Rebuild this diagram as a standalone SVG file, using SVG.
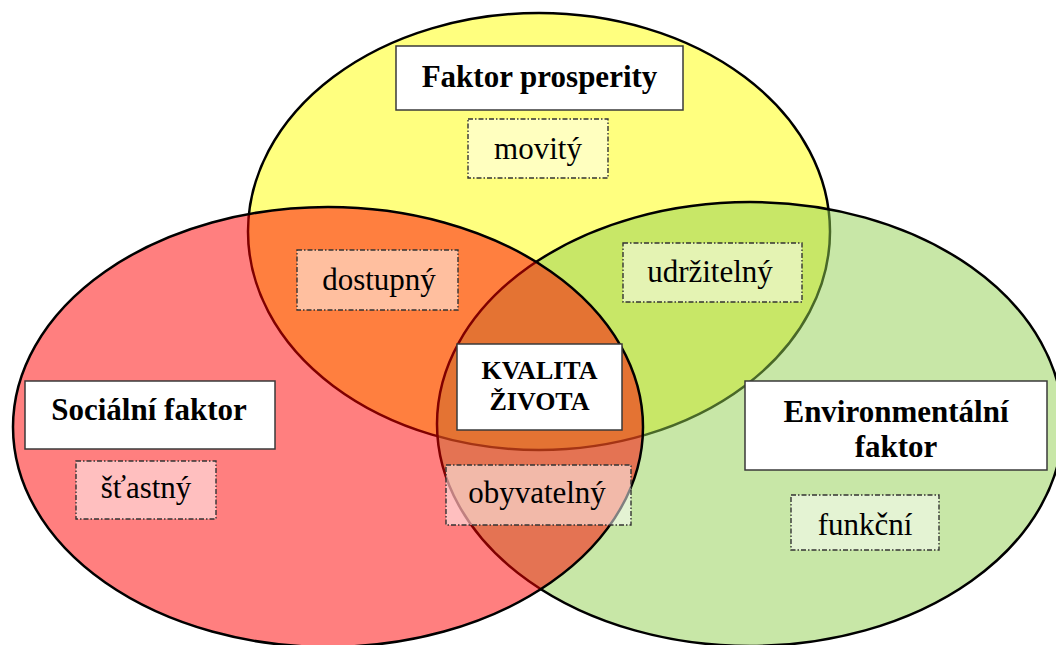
<svg xmlns="http://www.w3.org/2000/svg" width="1056" height="645" viewBox="0 0 1056 645">
<style>
.circ{stroke:#000;stroke-width:2.5;fill-opacity:0.5}
.title{fill:#fff;stroke:#3a3a3a;stroke-width:1.5}
.tag{fill:#fff;fill-opacity:0.5;stroke:#333;stroke-width:1.4;stroke-dasharray:5 2 1.5 2}
.b{font-weight:bold;font-size:31px}
.k{font-weight:bold;font-size:26px}
.n{font-size:31px}
</style>
<rect width="1056" height="645" fill="#fff"/>
<g id="circles">
<ellipse id="yellow" class="circ" cx="539" cy="231.5" rx="291" ry="218.5" fill="#FFFF00"/>
<ellipse id="green" class="circ" cx="750" cy="424" rx="313" ry="222" fill="#92D050"/>
<ellipse id="red" class="circ" cx="328" cy="427" rx="315" ry="220" fill="#FF0000"/>
</g>
<g id="connectors"/>
<g font-family="Liberation Serif, 'Times New Roman', 'DejaVu Serif', serif" text-anchor="middle" fill="#000">
<g id="prosperity">
<rect class="title" x="396" y="46" width="287" height="64"/>
<text class="b" x="539.5" y="87">Faktor prosperity</text>
</g>
<g id="movity">
<rect class="tag" x="468" y="119" width="140" height="59"/>
<text class="n" x="538" y="159">movitý</text>
</g>
<g id="dostupny">
<rect class="tag" x="297" y="250" width="161" height="60"/>
<text class="n" x="379" y="290">dostupný</text>
</g>
<g id="udrzitelny">
<rect class="tag" x="623" y="243" width="179" height="59"/>
<text class="n" x="710" y="282">udržitelný</text>
</g>
<g id="kvalita">
<rect class="title" x="457" y="344" width="165" height="86"/>
<text class="k" x="539.5" y="379">KVALITA</text>
<text class="k" x="539.5" y="410">ŽIVOTA</text>
</g>
<g id="obyvatelny">
<rect class="tag" x="446" y="465" width="185" height="60"/>
<text class="n" x="537" y="503">obyvatelný</text>
</g>
<g id="socialni">
<rect class="title" x="25" y="381" width="250" height="68"/>
<text class="b" x="149" y="420">Sociální faktor</text>
</g>
<g id="stastny">
<rect class="tag" x="76" y="461" width="140" height="58"/>
<text class="n" x="146" y="498">šťastný</text>
</g>
<g id="environmentalni">
<rect class="title" x="745" y="381" width="302" height="89"/>
<text class="b" x="896" y="422">Environmentální</text>
<text class="b" x="896" y="457">faktor</text>
</g>
<g id="funkcni">
<rect class="tag" x="791" y="495" width="148" height="55"/>
<text class="n" x="865" y="535">funkční</text>
</g>
</g>
</svg>
